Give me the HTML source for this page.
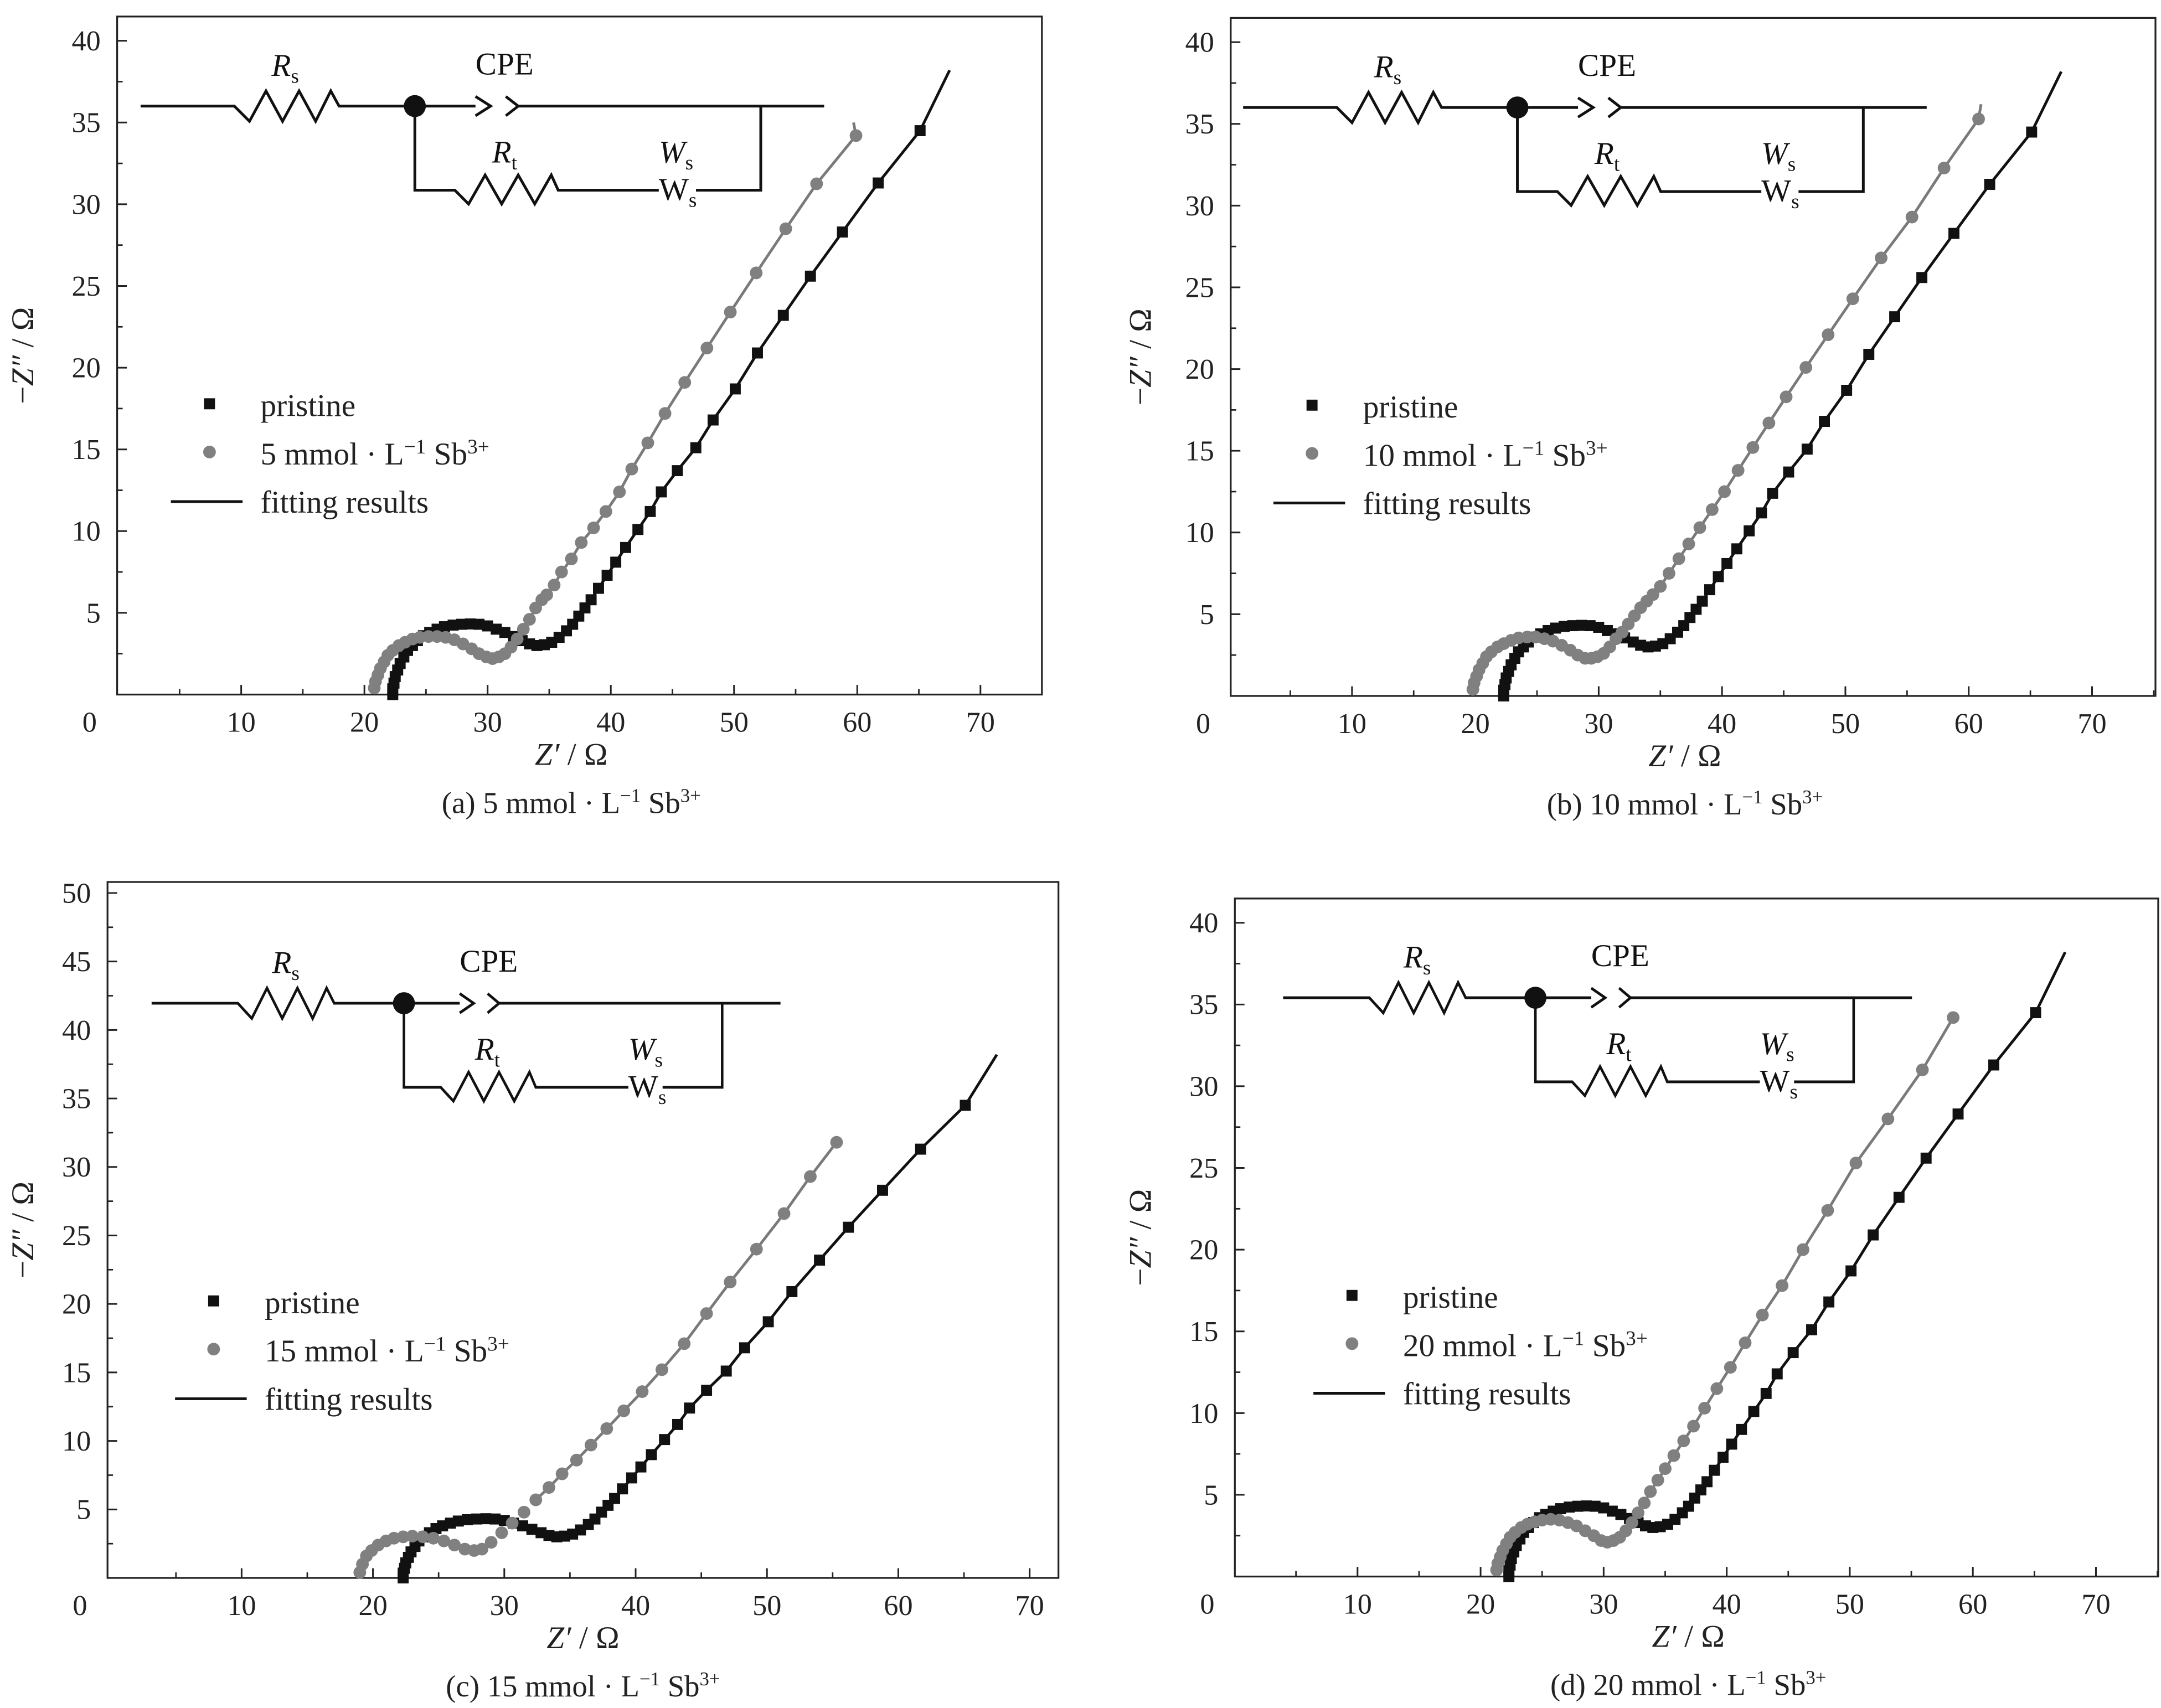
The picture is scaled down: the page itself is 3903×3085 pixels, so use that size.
<!DOCTYPE html>
<html><head><meta charset="utf-8"><style>
html,body{margin:0;padding:0;background:#fff;}
svg{display:block;font-family:"Liberation Serif",serif;}
</style></head><body>
<svg id="fig" xmlns="http://www.w3.org/2000/svg" width="3903" height="3085" viewBox="0 0 1568 1239.4"></svg>
<script>
// ---------- data ----------
const pristineX = [22.3,22.3,22.4,22.5,22.7,22.9,23.2,23.5,23.9,24.3,24.8,25.3,25.9,26.5,27.2,27.9,28.6,29.3,30.0,30.7,31.4,32.1,32.8,33.4,34.0,34.6,35.2,35.8,36.4,36.9,37.4,37.9,38.4,39.0,39.7,40.4,41.2,42.2,43.2,44.1,45.4,46.9,48.3,50.1,51.9,54.0,56.2,58.8,61.7,65.1];
const pristineY = [0.0,0.35,0.7,1.1,1.5,1.9,2.3,2.7,3.0,3.3,3.6,3.8,4.0,4.15,4.25,4.3,4.32,4.3,4.2,4.0,3.8,3.55,3.3,3.1,3.0,3.05,3.2,3.5,3.9,4.3,4.8,5.3,5.8,6.5,7.3,8.1,9.0,10.1,11.2,12.4,13.7,15.1,16.8,18.7,20.9,23.2,25.6,28.3,31.3,34.5];
const grayAX = [20.8,20.9,21.1,21.3,21.6,21.9,22.3,22.8,23.3,23.9,24.5,25.2,25.9,26.6,27.3,28.0,28.7,29.3,29.9,30.4,30.9,31.4,31.9,32.4,32.9,33.4,33.9,34.4,34.8,35.4,36.0,36.8,37.6,38.6,39.6,40.7,41.7,43.0,44.4,46.0,47.8,49.7,51.8,54.2,56.7,59.9];
const grayAY = [0.4,0.8,1.2,1.6,2.0,2.4,2.7,3.0,3.2,3.4,3.5,3.55,3.55,3.5,3.35,3.1,2.8,2.5,2.3,2.2,2.3,2.5,2.9,3.4,4.0,4.6,5.3,5.8,6.1,6.7,7.5,8.3,9.3,10.2,11.2,12.4,13.8,15.4,17.2,19.1,21.2,23.4,25.8,28.5,31.25,34.2];
const grayBX = [19.8,19.9,20.1,20.3,20.6,20.9,21.3,21.8,22.3,22.9,23.5,24.2,24.9,25.6,26.3,27.0,27.7,28.3,28.9,29.4,29.9,30.4,30.9,31.4,31.9,32.4,32.9,33.4,33.9,34.4,35.0,35.7,36.5,37.3,38.2,39.2,40.2,41.3,42.5,43.8,45.2,46.8,48.6,50.6,52.9,55.4,58.0,60.8];
const grayBY = [0.4,0.8,1.2,1.6,2.0,2.4,2.7,3.0,3.2,3.4,3.55,3.6,3.6,3.5,3.35,3.1,2.8,2.5,2.3,2.3,2.4,2.6,3.0,3.5,3.9,4.4,4.9,5.4,5.8,6.2,6.7,7.5,8.4,9.3,10.3,11.4,12.5,13.8,15.2,16.7,18.3,20.1,22.1,24.3,26.8,29.3,32.3,35.3];
const grayCX = [19.0,19.2,19.5,19.9,20.4,21.0,21.6,22.3,23.0,23.8,24.6,25.4,26.2,27.0,27.7,28.3,29.0,29.8,30.6,31.5,32.4,33.4,34.4,35.5,36.6,37.8,39.1,40.5,42.0,43.7,45.4,47.2,49.2,51.3,53.3,55.3];
const grayCY = [0.4,1.0,1.6,2.0,2.4,2.7,2.9,3.0,3.05,3.0,2.9,2.7,2.4,2.1,2.0,2.1,2.6,3.3,4.0,4.8,5.7,6.6,7.6,8.6,9.7,10.9,12.2,13.6,15.2,17.1,19.3,21.6,24.0,26.6,29.3,31.8];
const grayDX = [21.3,21.4,21.6,21.8,22.1,22.4,22.8,23.3,23.8,24.4,25.0,25.7,26.4,27.1,27.8,28.5,29.2,29.8,30.3,30.8,31.3,31.8,32.3,32.8,33.3,33.8,34.4,35.0,35.7,36.5,37.3,38.2,39.2,40.3,41.5,42.9,44.5,46.2,48.2,50.5,53.1,55.9,58.4];
const grayDY = [0.4,0.8,1.2,1.6,2.0,2.4,2.7,3.0,3.2,3.35,3.45,3.5,3.45,3.3,3.1,2.8,2.5,2.2,2.1,2.2,2.4,2.8,3.3,3.9,4.5,5.2,5.9,6.6,7.4,8.3,9.2,10.3,11.5,12.8,14.3,16.0,17.8,20.0,22.4,25.3,28.0,31.0,34.2];
const fitEndPristine = [67.5,38.2];
const xTicks = [0,10,20,30,40,50,60,70];
const yTicks40 = [5,10,15,20,25,30,35,40];
const yTicks50 = [5,10,15,20,25,30,35,40,45,50];

const NS="http://www.w3.org/2000/svg";
const svg=document.getElementById('fig');
function el(tag,attrs,parent){const e=document.createElementNS(NS,tag);for(const k in attrs)e.setAttribute(k,attrs[k]);(parent||svg).appendChild(e);return e;}
function txt(s,attrs,parent){const e=el('text',attrs,parent);e.textContent=s;return e;}

const panels=[
 {id:'a',L:85,R:756,T:12,x0:85.6,kx:8.94,y0:504,ky:11.86,yt:yTicks40,gx:grayAX,gy:grayAY,gend:[59.7,35.0],label:'5',cx:0,cy:0,cs:1},
 {id:'b',L:893,R:1564,T:13,x0:891.5,kx:8.95,y0:505,ky:11.86,yt:yTicks40,gx:grayBX,gy:grayBY,gend:[61.0,36.2],label:'10',cx:800,cy:1,cs:1},
 {id:'c',L:78,R:768,T:640,x0:80,kx:9.53,y0:1145,ky:9.94,yt:yTicks50,gx:grayCX,gy:grayCY,gend:[55.3,31.8],label:'15',cx:8,cy:651,cs:0.92},
 {id:'d',L:896,R:1566,T:652,x0:895.7,kx:8.93,y0:1144,ky:11.86,yt:yTicks40,gx:grayDX,gy:grayDY,gend:[58.5,34.4],label:'20',cx:829,cy:647,cs:0.92}
];

panels.forEach(p=>{
 const g=el('g',{});
 
 
 const X=v=>p.x0+v*p.kx, Y=v=>p.y0-v*p.ky;
 const fr=el('rect',{x:p.L,y:p.T,width:p.R-p.L,height:p.y0-p.T,fill:'none',stroke:'#222','stroke-width':1.3},g);
 
 
 xTicks.forEach(t=>{
  if(t>0){el('line',{x1:X(t),x2:X(t),y1:p.y0,y2:p.y0-7,stroke:'#222','stroke-width':1.2},g);}
  if(X(t+5)<p.R) el('line',{x1:X(t+5),x2:X(t+5),y1:p.y0,y2:p.y0-4,stroke:'#222','stroke-width':1.1},g);
  const tl=txt(String(t),{x:t===0?p.L-20:X(t),y:p.y0+27,'text-anchor':'middle','font-size':21,fill:'#222'},g);
  
  
 });
 p.yt.forEach(t=>{
  el('line',{x1:p.L,x2:p.L+7,y1:Y(t),y2:Y(t),stroke:'#222','stroke-width':1.2},g);
  if(Y(t-2.5)<p.y0) el('line',{x1:p.L,x2:p.L+4,y1:Y(t-2.5),y2:Y(t-2.5),stroke:'#222','stroke-width':1.1},g);
  const tl=txt(String(t),{x:p.L-12,y:Y(t)+7,'text-anchor':'end','font-size':21,fill:'#222'},g);
  
  
 });
 if(Y(p.yt[p.yt.length-1]+2.5)>p.T) el('line',{x1:p.L,x2:p.L+4,y1:Y(p.yt[p.yt.length-1]+2.5),y2:Y(p.yt[p.yt.length-1]+2.5),stroke:'#222','stroke-width':1.1},g);
 const cxm=(p.L+p.R)/2-(p.id==='c'?0:6);
 const xt=txt('',{x:cxm,y:p.y0+51,'text-anchor':'middle','font-size':23,fill:'#222'},g);
 xt.innerHTML='<tspan font-style="italic">Z′</tspan> / Ω';
 
 
 const ymid=(p.T+p.y0)/2;
 const xa=p.id==='a'||p.id==='c'?24:835;
 const yt=txt('',{x:xa,y:ymid,'text-anchor':'middle','font-size':23,fill:'#222',transform:`rotate(-90 ${xa} ${ymid})`},g);
 yt.innerHTML='−<tspan font-style="italic">Z″</tspan> / Ω';
 
 
 const cap=txt('',{x:cxm,y:p.y0+86,'text-anchor':'middle','font-size':22,fill:'#222'},g);
 cap.innerHTML=`(${p.id}) ${p.label} mmol · L<tspan dy="-8" font-size="14">−1</tspan><tspan dy="8"> Sb</tspan><tspan dy="-8" font-size="14">3+</tspan>`;
 
 
 const pf=pristineX.slice(24).map((v,i)=>X(v)+','+Y(pristineY[i+24])).join(' ')+' '+X(fitEndPristine[0])+','+Y(fitEndPristine[1]);
 const fl=el('polyline',{points:pf,fill:'none',stroke:'#111','stroke-width':2},g);
 
 
 const gf=p.gx.slice(20).map((v,i)=>X(v)+','+Y(p.gy[i+20])).join(' ')+' '+X(p.gend[0])+','+Y(p.gend[1]);
 const gl=el('polyline',{points:gf,fill:'none',stroke:'#7a7a7a','stroke-width':2},g);
 
 
 pristineX.forEach((v,i)=>{
  const r=el('rect',{x:X(v)-4,y:Y(pristineY[i])-4,width:8,height:8,fill:'#111'},g);
  
  
 });
 p.gx.forEach((v,i)=>{
  const c=el('circle',{cx:X(v),cy:Y(p.gy[i]),r:4.6,fill:'#808080'},g);
  
  
 });
 const lg=el('g',{transform:`translate(${p.cx+(p.id==='c'?-5:0)},${p.cy})`},g);
 
 
 el('rect',{x:148,y:289,width:8,height:8,fill:'#111'},lg);
 txt('pristine',{x:189,y:302,'font-size':23,fill:'#222'},lg);
 el('circle',{cx:152,cy:328,r:4.6,fill:'#808080'},lg);
 const l2=txt('',{x:189,y:337,'font-size':23,fill:'#222'},lg);
 l2.innerHTML=`${p.label} mmol · L<tspan dy="-8" font-size="15">−1</tspan><tspan dy="8"> Sb</tspan><tspan dy="-8" font-size="15">3+</tspan>`;
 el('line',{x1:124,x2:176,y1:364,y2:364,stroke:'#111','stroke-width':2},lg);
 txt('fitting results',{x:189,y:372,'font-size':23,fill:'#222'},lg);
 const cg=el('g',{transform:`translate(${p.cx+102*(1-p.cs)},${p.cy}) scale(${p.cs},1)`},g);
 
 
 const st={fill:'none',stroke:'#111','stroke-width':2};
 el('polyline',Object.assign({points:'102,77 170,77 181,88 193,66 205,88 217,66 229,88 240,66 246,77 345,77'},st),cg);
 el('polyline',Object.assign({points:'345,70 356,77 345,84'},st),cg);
 el('polyline',Object.assign({points:'367,70 376,77 367,84'},st),cg);
 el('line',Object.assign({x1:376,y1:77,x2:598,y2:77},st),cg);
 el('polyline',Object.assign({points:'301,77 301,138 330,138 340,148 352,127 364,148 376,127 388,148 400,127 405,138 478,138'},st),cg);
 el('polyline',Object.assign({points:'505,138 552,138 552,77'},st),cg);
 el('ellipse',{cx:301,cy:77,rx:8/p.cs,ry:8,fill:'#111'},cg);
 const t1=txt('',{x:197*p.cs,y:55,'font-size':23,fill:'#111',transform:`scale(${1/p.cs},1)`},cg);
 t1.innerHTML='<tspan font-style="italic">R</tspan><tspan font-size="15" dy="5">s</tspan>';
 txt('CPE',{x:345*p.cs,y:54,'font-size':23,fill:'#111',transform:`scale(${1/p.cs},1)`},cg);
 const t3=txt('',{x:357*p.cs,y:118,'font-size':23,fill:'#111',transform:`scale(${1/p.cs},1)`},cg);
 t3.innerHTML='<tspan font-style="italic">R</tspan><tspan font-size="15" dy="5">t</tspan>';
 const t4=txt('',{x:478*p.cs,y:118,'font-size':23,fill:'#111',transform:`scale(${1/p.cs},1)`},cg);
 t4.innerHTML='<tspan font-style="italic">W</tspan><tspan font-size="15" dy="5">s</tspan>';
 const t5=txt('',{x:478*p.cs,y:145,'font-size':23,fill:'#111',transform:`scale(${1/p.cs},1)`},cg);
 t5.innerHTML='W<tspan font-size="15" dy="5">s</tspan>';
});
</script>
</body></html>
